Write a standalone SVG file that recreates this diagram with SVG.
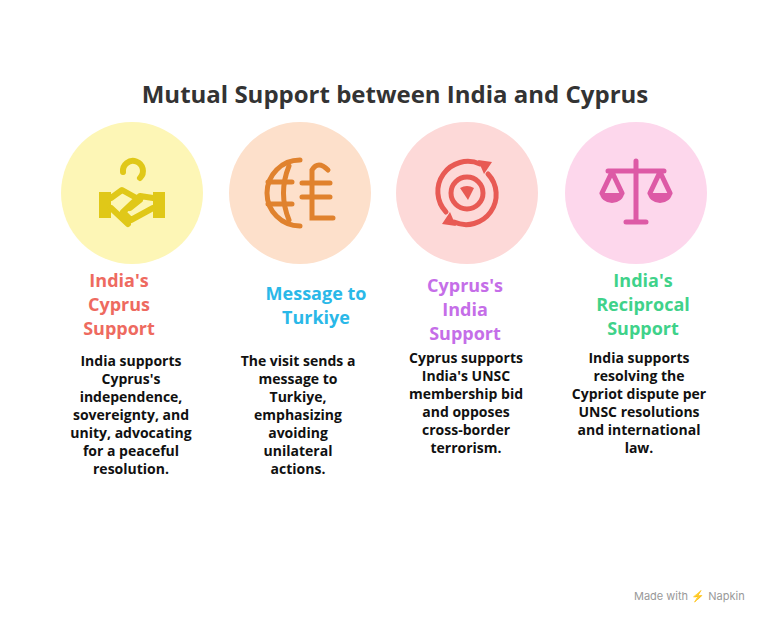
<svg xmlns="http://www.w3.org/2000/svg" width="767" height="624" viewBox="0 0 767 624">
<style>
.t{font-family:"Open Sans","Liberation Sans",sans-serif;font-weight:700;text-anchor:middle}
.h{font-size:18px}
.b{font-size:14px;fill:#111}
</style>
<rect width="767" height="624" fill="#fff"/>
<text class="t" x="395" y="103" font-size="24" fill="#333">Mutual Support between India and Cyprus</text>
<g id="n1">
<circle cx="132" cy="193" r="71" fill="#fdf6b6"/>
<g fill="none" stroke="#e0c818" stroke-width="6" stroke-linecap="round" stroke-linejoin="round">
<rect x="99" y="192" width="12" height="26" fill="#e0c818" stroke="none"/>
<rect x="153" y="192" width="12" height="26" fill="#e0c818" stroke="none"/>
<path d="M111 198 L122 190 L140 200 L130 208 M153 198 L140 196 L123 212 L131 220 L153 208 M111 208 L128 224"/>
<path d="M123 172 A10 10 0 1 1 140 178"/>
</g>
<text class="t h" x="119" y="287" fill="#ee6a60">India's</text>
<text class="t h" x="119" y="311" fill="#ee6a60">Cyprus</text>
<text class="t h" x="119" y="335" fill="#ee6a60">Support</text>
<text class="t b" x="131" y="366">India supports</text>
<text class="t b" x="131" y="384">Cyprus's</text>
<text class="t b" x="131" y="402">independence,</text>
<text class="t b" x="131" y="420">sovereignty, and</text>
<text class="t b" x="131" y="438">unity, advocating</text>
<text class="t b" x="131" y="456">for a peaceful</text>
<text class="t b" x="131" y="474">resolution.</text>
</g>
<g id="n2">
<circle cx="300" cy="193" r="71" fill="#fde0cb"/>
<g fill="none" stroke="#e0822e" stroke-width="5" stroke-linecap="round">
<path d="M300 160 A33 33 0 0 0 300 226"/>
<path d="M289 166 Q278 193 289 220"/>
<path d="M268 182 H292 M268 204 H292"/>
<path d="M328 170 Q318 160 312 170 V218 H333 M302 183 H330 M302 197 H330"/>
</g>
<text class="t h" x="316" y="300" fill="#2ab8e8">Message to</text>
<text class="t h" x="316" y="324" fill="#2ab8e8">Turkiye</text>
<text class="t b" x="298" y="366">The visit sends a</text>
<text class="t b" x="298" y="384">message to</text>
<text class="t b" x="298" y="402">Turkiye,</text>
<text class="t b" x="298" y="420">emphasizing</text>
<text class="t b" x="298" y="438">avoiding</text>
<text class="t b" x="298" y="456">unilateral</text>
<text class="t b" x="298" y="474">actions.</text>
</g>
<g id="n3">
<circle cx="467" cy="193" r="71" fill="#fdd9d8"/>
<g fill="none" stroke="#e85a54" stroke-width="5" stroke-linecap="round">
<path d="M446 212 A30 30 0 0 1 480 164"/>
<path d="M488 174 A30 30 0 0 1 454 222"/>
<circle cx="467" cy="193" r="16"/>
</g>
<path d="M478 160 L492 162 L484 174Z M456 226 L442 224 L450 212Z" fill="#e85a54"/>
<path d="M460 188 Q467 184 474 188 L468 200Z" fill="#e85a54"/>
<text class="t h" x="465" y="292" fill="#c56ee8">Cyprus's</text>
<text class="t h" x="465" y="316" fill="#c56ee8">India</text>
<text class="t h" x="465" y="340" fill="#c56ee8">Support</text>
<text class="t b" x="466" y="363">Cyprus supports</text>
<text class="t b" x="466" y="381">India's UNSC</text>
<text class="t b" x="466" y="399">membership bid</text>
<text class="t b" x="466" y="417">and opposes</text>
<text class="t b" x="466" y="435">cross-border</text>
<text class="t b" x="466" y="453">terrorism.</text>
</g>
<g id="n4">
<circle cx="636" cy="193" r="71" fill="#fdd7ec"/>
<g stroke="#dd5aa6" stroke-width="5" stroke-linecap="round" fill="none">
<path d="M636 161 V222 M626 222 H646 M608 171 H664 M612 172 L602 193 M612 172 L622 193 M660 172 L650 193 M660 172 L670 193"/>
</g>
<path d="M600 193 H624 A12 10 0 0 1 600 193Z M648 193 H672 A12 10 0 0 1 648 193Z" fill="#dd5aa6"/>
<text class="t h" x="643" y="287" fill="#3fd28a">India's</text>
<text class="t h" x="643" y="311" fill="#3fd28a">Reciprocal</text>
<text class="t h" x="643" y="335" fill="#3fd28a">Support</text>
<text class="t b" x="639" y="363">India supports</text>
<text class="t b" x="639" y="381">resolving the</text>
<text class="t b" x="639" y="399">Cypriot dispute per</text>
<text class="t b" x="639" y="417">UNSC resolutions</text>
<text class="t b" x="639" y="435">and international</text>
<text class="t b" x="639" y="453">law.</text>
</g>
<g id="connectors"/>
<text x="634" y="600" font-family="Inter,'Liberation Sans',sans-serif" font-size="11" fill="#999">Made with ⚡ Napkin</text>
</svg>
